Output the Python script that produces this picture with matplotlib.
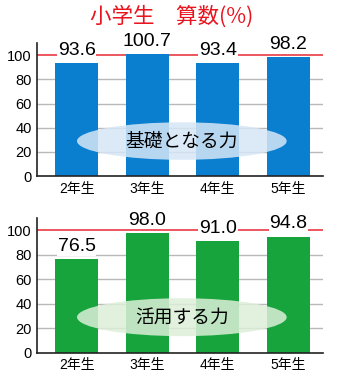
import matplotlib.pyplot as plt
from matplotlib.patches import Ellipse

grades = ["2年生", "3年生", "4年生", "5年生"]
kiso = [93.6, 100.7, 93.4, 98.2]
katsuyo = [76.5, 98.0, 91.0, 94.8]
yticks = [0, 20, 40, 60, 80, 100]

title = "小学生\u3000算数(%)"
fonts = ["Liberation Sans", "Noto Sans CJK JP", "DejaVu Sans"]
cjk = ["Noto Sans CJK JP", "DejaVu Sans"]

fig = plt.figure(figsize=(3.5, 3.78), dpi=100)
fig.text(0.49, 0.957, title, color="#e8141e", fontsize=15.5,
         family=cjk, ha="center", va="center")


def panel(rect, vals, color, ell_color, label):
    ax = fig.add_axes(rect)
    x = range(len(vals))
    for t in yticks[1:-1]:
        ax.axhline(t, color="#b8b8b8", lw=1, zorder=1)
    ax.axhline(100, color="#ea4a52", lw=1.3, zorder=1.5)
    ax.bar(x, vals, width=0.61, color=color, zorder=2)
    for xi, v in zip(x, vals):
        ax.text(xi, v + 3.5, f"{v:.1f}", ha="center", va="bottom",
                fontsize=14, family=fonts, zorder=5,
                bbox=dict(facecolor="white", edgecolor="none", pad=0.6))
    ell = Ellipse((1.49, 29), 2.97, 31, facecolor=ell_color,
                  edgecolor="none", alpha=0.85, zorder=3)
    ax.add_patch(ell)
    ax.text(1.49, 29, label, ha="center", va="center", fontsize=13.5,
            family=cjk, zorder=4)
    ax.set_xlim(-0.56, 3.49)
    ax.set_ylim(0, 110)
    ax.set_yticks(yticks)
    ax.set_yticklabels([str(t) for t in yticks], family=fonts, fontsize=10.5)
    ax.set_xticks(list(x))
    ax.set_xticklabels(grades, family=fonts, fontsize=10)
    ax.tick_params(length=0, axis="y", pad=4)
    ax.tick_params(length=0, axis="x", pad=4)
    for s in ["top", "right"]:
        ax.spines[s].set_visible(False)
    for s in ["left", "bottom"]:
        ax.spines[s].set_linewidth(1.2)
        ax.spines[s].set_color("#222222")
    return ax


panel([0.106, 0.534, 0.817, 0.352], kiso, "#0a7fd0", "#d6e7f7", "基礎となる力")
panel([0.106, 0.067, 0.817, 0.356], katsuyo, "#17a43c", "#dcefd8", "活用する力")

fig.savefig("out.png", dpi=100)
